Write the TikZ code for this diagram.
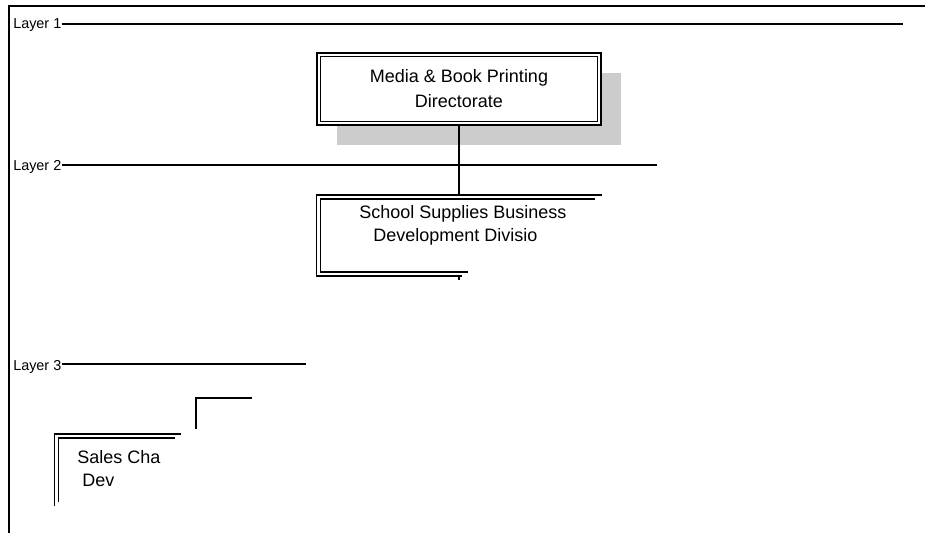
\documentclass[tikz,border=0pt]{standalone}
\usepackage{fontspec}
\setmainfont{Liberation Sans}
\begin{document}
\begin{tikzpicture}[x=0.75pt,y=-0.75pt,
  boxline/.style={line width=0.8pt},
  layerline/.style={line width=1pt},
  frameline/.style={line width=1.4pt},
  layerlabel/.style={anchor=west,inner sep=0pt,font=\fontsize{10.8}{12}\selectfont},
  boxtext/.style={inner sep=0pt,font=\fontsize{13.5}{16}\selectfont},
  shadowfill/.style={fill=black!20,draw=none}]
\useasboundingbox (0,0) rectangle (925,533);
% frame
\draw[frameline] (9,533) -- (9,6) -- (925,6);
% layer labels and lines
\node[layerlabel] (l1) at (13,25) {Layer 1};
\node[layerlabel] (l2) at (13,167) {Layer 2};
\node[layerlabel] (l3) at (13,367) {Layer 3};
\coordinate (l1e) at (903,24);
\coordinate (l2e) at (657,165);
\coordinate (l3e) at (306,364);
\draw[layerline] (l1.east |- l1e) -- (l1e);
\draw[layerline] (l2.east |- l2e) -- (l2e);
\draw[layerline] (l3.east |- l3e) -- (l3e);
% media box with shadow
\fill[shadowfill] (337,73) rectangle (621,145);
\fill[white] (317,53) rectangle (601,125);
\draw[boxline] (317,53) rectangle (601,125);
\draw[boxline] (320.5,56.5) rectangle (597.5,121.5);
\node[boxtext] (media1) at (459,78) {Media \& Book Printing};
\node[boxtext] (media2) at (459,101) {Directorate};
\coordinate (mediaB) at (459,125);
% school box (partial)
\coordinate (schoolT) at (459,195);
\draw[boxline] (602,195) -- (316.5,195) -- (316.5,276) -- (462,276);
\draw[boxline] (595,199) -- (320.5,199) -- (320.5,272) -- (468,272);
\draw[boxline] (459,276) -- (459,280);
\node[boxtext,anchor=west] (school1) at (359,214) {School Supplies Business};
\node[boxtext,anchor=west] (school2) at (373,237) {Development Divisio};
% connector
\draw[line width=1pt] (mediaB) -- (schoolT);
% bracket
\draw[line width=1pt] (196,429) -- (196,398) -- (252,398);
% sales box (partial)
\draw[boxline] (181,434) -- (54.5,434) -- (54.5,506);
\draw[boxline] (175,438) -- (58.5,438) -- (58.5,502);
\node[boxtext,anchor=west] (sales1) at (77,457) {Sales Cha};
\node[boxtext,anchor=west] (sales2) at (82,480) {Dev};
\end{tikzpicture}
\end{document}
